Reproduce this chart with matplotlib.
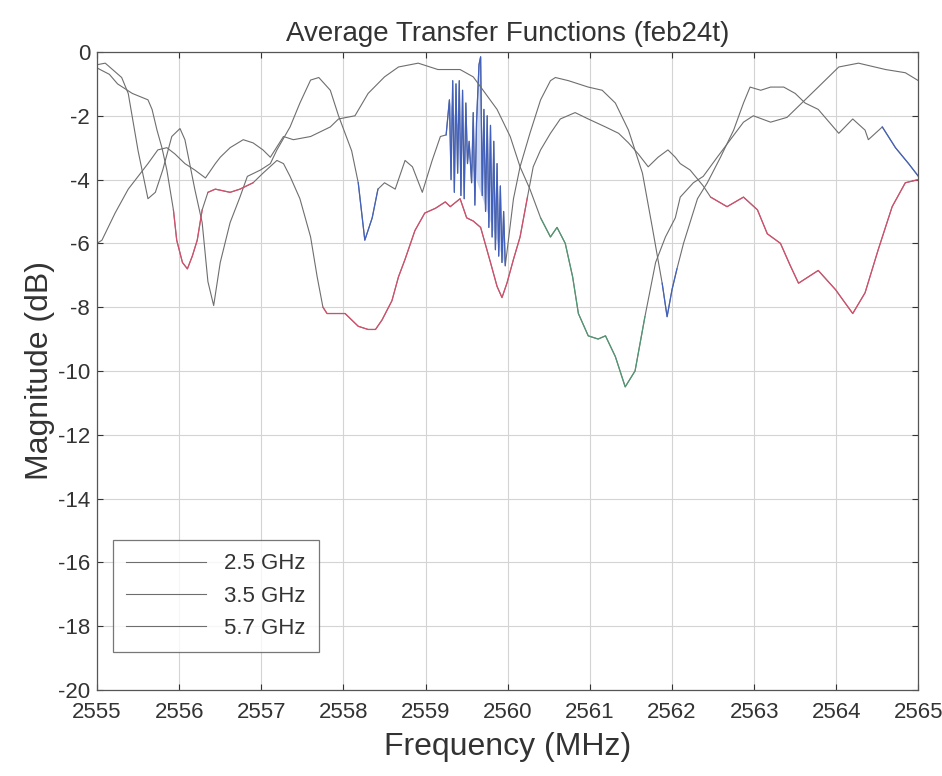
import matplotlib
matplotlib.use("Agg")
import matplotlib.pyplot as plt
import numpy as np

plt.rcParams["font.family"] = ["Liberation Sans", "DejaVu Sans"]
plt.rcParams["axes.unicode_minus"] = False

# 2.5 GHz trace
f_25 = [2555.00, 2555.10, 2555.30, 2555.38, 2555.50, 2555.62, 2555.71, 2555.80, 2555.91,
        2556.01, 2556.07, 2556.19, 2556.28, 2556.35, 2556.42, 2556.50, 2556.62, 2556.74,
        2556.83, 2556.99, 2557.11, 2557.19, 2557.35, 2557.47, 2557.60, 2557.70, 2557.84,
        2557.94, 2558.10, 2558.18, 2558.26, 2558.35, 2558.42, 2558.50, 2558.63, 2558.75,
        2558.84, 2558.96, 2559.08, 2559.18,
        2559.25, 2559.29, 2559.31, 2559.33, 2559.35, 2559.37, 2559.39, 2559.41, 2559.43,
        2559.45, 2559.47, 2559.49, 2559.51, 2559.53, 2559.56, 2559.58, 2559.60, 2559.62,
        2559.65, 2559.67, 2559.69, 2559.71, 2559.73, 2559.75, 2559.77, 2559.79, 2559.81,
        2559.83, 2559.85, 2559.87, 2559.89, 2559.91, 2559.93, 2559.95, 2559.97,
        2560.07, 2560.15, 2560.27, 2560.40, 2560.52, 2560.58, 2560.74, 2560.98, 2561.15,
        2561.31, 2561.47, 2561.64, 2561.76, 2561.88, 2561.94, 2562.00, 2562.06, 2562.14,
        2562.31, 2562.43, 2562.59, 2562.75, 2562.87, 2562.95, 2563.08, 2563.20, 2563.36,
        2563.50, 2563.62, 2563.78, 2564.03, 2564.20, 2564.35, 2564.39, 2564.56, 2564.72,
        2564.88, 2565.00]
m_25 = [-0.4, -0.35, -0.8, -1.3, -3.1, -4.6, -4.4, -3.7, -2.65,
        -2.4, -2.75, -4.3, -5.35, -7.2, -7.95, -6.6, -5.35, -4.55,
        -3.9, -3.7, -3.5, -3.07, -2.35, -1.6, -0.88, -0.8, -1.2,
        -2.0, -3.1, -4.1, -5.9, -5.2, -4.3, -4.1, -4.3, -3.4,
        -3.6, -4.4, -3.4, -2.65,
        -2.6, -1.5, -4.0, -0.9, -4.4, -1.0, -3.8, -0.9, -4.5,
        -1.2, -4.6, -1.6, -3.5, -2.8, -4.1, -1.9, -4.8, -2.2,
        -0.4, -0.15, -4.5, -1.8, -5.0, -2.0, -5.5, -2.3, -5.8,
        -2.8, -6.2, -3.5, -6.4, -4.2, -6.6, -5.0, -6.7,
        -4.6, -3.6, -2.55, -1.5, -0.9, -0.8, -0.9, -1.1, -1.2,
        -1.6, -2.45, -3.8, -5.5, -7.25, -8.3, -7.45, -6.8, -6.0,
        -4.6, -4.1, -3.3, -2.45, -1.6, -1.1, -1.2, -1.1, -1.1,
        -1.3, -1.6, -1.8, -2.55, -2.1, -2.45, -2.75, -2.35, -3.0,
        -3.5, -3.9]

# 3.5 GHz trace
f_35 = [2555.00, 2555.06, 2555.22, 2555.38, 2555.50, 2555.62, 2555.74, 2555.85, 2555.95,
        2556.07, 2556.19, 2556.32, 2556.44, 2556.50, 2556.62, 2556.78, 2556.90, 2557.02,
        2557.11, 2557.27, 2557.39, 2557.60, 2557.84, 2557.94, 2558.14, 2558.30, 2558.50,
        2558.67, 2558.91, 2559.15, 2559.42, 2559.58, 2559.70, 2559.87, 2560.03, 2560.15,
        2560.27, 2560.40, 2560.52, 2560.60, 2560.70, 2560.79, 2560.86, 2560.98, 2561.10,
        2561.19, 2561.31, 2561.43, 2561.55, 2561.67, 2561.80, 2561.92, 2562.04, 2562.10,
        2562.26, 2562.38, 2562.55, 2562.71, 2562.87, 2562.99, 2563.20, 2563.40, 2563.62,
        2563.78, 2564.03, 2564.27, 2564.60, 2564.84, 2565.00]
m_35 = [-6.0, -5.9, -5.05, -4.3, -3.9, -3.5, -3.07, -3.0, -3.2,
        -3.5, -3.7, -3.95, -3.5, -3.3, -3.0, -2.75, -2.85, -3.07,
        -3.3, -2.65, -2.75, -2.65, -2.35, -2.1, -2.0, -1.3, -0.78,
        -0.47, -0.35, -0.55, -0.55, -0.78, -1.2, -1.8, -2.65, -3.6,
        -4.3, -5.2, -5.8, -5.5, -6.0, -7.05, -8.2, -8.9, -9.0,
        -8.9, -9.55, -10.5, -10.0, -8.3, -6.6, -5.8, -5.2, -4.55,
        -4.1, -3.9, -3.3, -2.75, -2.2, -2.0, -2.2, -2.05, -1.5,
        -1.1, -0.47, -0.35, -0.55, -0.65, -0.9]

# 5.7 GHz trace
f_57 = [2555.00, 2555.15, 2555.25, 2555.43, 2555.62, 2555.67, 2555.73, 2555.79, 2555.85,
        2555.93, 2555.97, 2556.04, 2556.10, 2556.16, 2556.22, 2556.28, 2556.35, 2556.44,
        2556.62, 2556.74, 2556.90, 2557.02, 2557.19, 2557.27, 2557.35, 2557.47, 2557.60,
        2557.68, 2557.75, 2557.80, 2557.90, 2558.02, 2558.10, 2558.18, 2558.30, 2558.39,
        2558.47, 2558.59, 2558.67, 2558.75, 2558.87, 2558.99, 2559.12, 2559.24, 2559.30,
        2559.42, 2559.50, 2559.58, 2559.67, 2559.79, 2559.87, 2559.93, 2559.99, 2560.07,
        2560.15, 2560.24, 2560.31, 2560.40, 2560.52, 2560.64, 2560.82, 2560.98, 2561.19,
        2561.35, 2561.47, 2561.59, 2561.71, 2561.83, 2561.95, 2562.04, 2562.10, 2562.22,
        2562.38, 2562.47, 2562.67, 2562.87, 2563.04, 2563.16, 2563.32, 2563.44, 2563.54,
        2563.78, 2563.99, 2564.20, 2564.35, 2564.51, 2564.68, 2564.84, 2565.00]
m_57 = [-0.5, -0.7, -1.0, -1.3, -1.5, -1.8, -2.45, -3.0, -3.7,
        -4.95, -5.9, -6.6, -6.8, -6.4, -5.9, -4.95, -4.4, -4.3,
        -4.4, -4.3, -4.1, -3.8, -3.4, -3.5, -3.9, -4.6, -5.8,
        -7.05, -8.0, -8.2, -8.2, -8.2, -8.4, -8.6, -8.7, -8.7,
        -8.4, -7.8, -7.05, -6.5, -5.6, -5.05, -4.9, -4.7, -4.85,
        -4.6, -5.2, -5.3, -5.5, -6.6, -7.35, -7.7, -7.25, -6.5,
        -5.8, -4.55, -3.6, -3.07, -2.55, -2.1, -1.9, -2.1, -2.35,
        -2.55, -2.85, -3.2, -3.6, -3.3, -3.07, -3.3, -3.5, -3.7,
        -4.2, -4.55, -4.85, -4.55, -4.95, -5.7, -6.0, -6.7, -7.25,
        -6.85, -7.45, -8.2, -7.55, -6.2, -4.85, -4.1, -4.0]

labels = ["2.5 GHz", "3.5 GHz", "5.7 GHz"]

# stretches of each trace that show colour on the scan
tint_25 = [(2558.18, 2558.45), (2559.22, 2560.02), (2561.80, 2562.10), (2564.45, 2565.0)]
tint_35 = [(2560.30, 2561.70)]
tint_57 = [(2555.93, 2556.30), (2556.35, 2556.95), (2557.70, 2560.25), (2562.45, 2565.0)]

gray = "#6e6e6e"


def draw(ax, f, m, tints, tint_color, label):
    f = np.asarray(f)
    m = np.asarray(m)
    ax.plot(f, m, color=gray, lw=0.8, label=label)
    for lo, hi in tints:
        sel = (f >= lo) & (f <= hi)
        ax.plot(f[sel], m[sel], color=tint_color, lw=0.9, alpha=0.9)


fig = plt.figure(figsize=(9.42, 7.76), dpi=100)
ax = fig.add_axes([0.103, 0.111, 0.872, 0.822])

# the dense spiky burst reads as a light blue wash on the scan
fa = np.asarray(f_25)
ma = np.asarray(m_25)
sel = (fa >= 2559.28) & (fa <= 2559.98)
ax.fill(fa[sel], ma[sel], color="#a9bdf0", alpha=0.55, lw=0)

draw(ax, f_25, m_25, tint_25, "#3d5fc4", labels[0])
draw(ax, f_35, m_35, tint_35, "#4e9a72", labels[1])
draw(ax, f_57, m_57, tint_57, "#e04a6a", labels[2])

ax.set_xlim(2555, 2565)
ax.set_ylim(-20, 0)
ax.set_xticks(np.arange(2555, 2566, 1))
ax.set_yticks(np.arange(-20, 1, 2))
ax.grid(True, color="#d4d4d4", lw=0.8)
ax.set_axisbelow(True)
ax.tick_params(direction="in", length=4, top=True, right=True, labelsize=16,
               colors="#333333")
ax.tick_params(axis="x", pad=9)
ax.tick_params(axis="y", pad=5)
for s in ax.spines.values():
    s.set_color("#555555")
    s.set_linewidth(0.9)

ax.set_title("Average Transfer Functions (feb24t)", fontsize=20, color="#333333", pad=8)
ax.set_xlabel("Frequency (MHz)", fontsize=23, color="#333333", labelpad=6)
ax.set_ylabel("Magnitude (dB)", fontsize=23, color="#333333", labelpad=2)

leg = ax.legend(loc="lower left", bbox_to_anchor=(0.006, 0.042), fontsize=16,
                frameon=True, fancybox=False, handlelength=3.6, borderpad=0.6,
                labelspacing=0.5)
leg.get_frame().set_edgecolor("#555555")
leg.get_frame().set_linewidth(0.9)
for t in leg.get_texts():
    t.set_color("#333333")

fig.savefig("out.png", dpi=100)
